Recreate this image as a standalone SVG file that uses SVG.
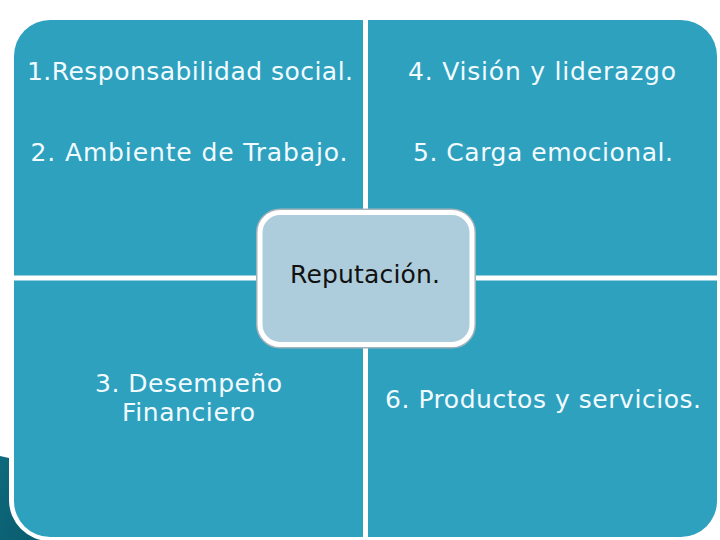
<svg xmlns="http://www.w3.org/2000/svg" width="720" height="540" viewBox="0 0 720 540">
  <defs>
    <linearGradient id="deco" x1="0" y1="0" x2="1" y2="1">
      <stop offset="0" stop-color="#0d6a7c"/>
      <stop offset="1" stop-color="#0a5a6c"/>
    </linearGradient>
  </defs>
  <style>
    .quad { fill: #2ea1bf; }
    .lbl { font-family: "DejaVu Sans", Verdana, sans-serif; font-size: 25px; fill: #f2fbff; text-anchor: middle; }
    .center-lbl { font-family: "DejaVu Sans", Verdana, sans-serif; font-size: 25px; fill: #111111; text-anchor: middle; }
  </style>
  <rect width="720" height="540" fill="#ffffff"/>
  <path id="decoration" d="M0,456 L9,458 L9,500 A41,41 0 0 0 50,541 L0,541 Z" fill="url(#deco)"/>

  <g id="q1">
    <path class="quad" d="M14,56 A36,36 0 0 1 50,20 L363,20 L363,275.5 L14,275.5 Z"/>
    <text class="lbl" x="190" y="80" textLength="326" lengthAdjust="spacing">1.Responsabilidad social.</text>
    <text class="lbl" x="189" y="161" textLength="317" lengthAdjust="spacing">2. Ambiente de Trabajo.</text>
  </g>
  <g id="q2">
    <path class="quad" d="M368,20 L681,20 A36,36 0 0 1 717,56 L717,275.5 L368,275.5 Z"/>
    <text class="lbl" x="542" y="80" textLength="268" lengthAdjust="spacing">4. Visión y liderazgo</text>
    <text class="lbl" x="543" y="161" textLength="260" lengthAdjust="spacing">5. Carga emocional.</text>
  </g>
  <g id="q3">
    <path class="quad" d="M14,280.5 L363,280.5 L363,537 L50,537 A36,36 0 0 1 14,501 Z"/>
    <text class="lbl" x="188.5" y="392" textLength="187" lengthAdjust="spacing">3. Desempeño</text>
    <text class="lbl" x="188.5" y="421" textLength="133" lengthAdjust="spacing">Financiero</text>
  </g>
  <g id="q4">
    <path class="quad" d="M368,280.5 L717,280.5 L717,501 A36,36 0 0 1 681,537 L368,537 Z"/>
    <text class="lbl" x="543" y="408" textLength="316" lengthAdjust="spacing">6. Productos y servicios.</text>
  </g>
  <g id="reputacion">
    <rect x="260" y="212.5" width="212" height="132" rx="20" ry="20" fill="none" stroke="#a3b3ba" stroke-width="8"/>
    <rect x="260" y="212.5" width="212" height="132" rx="20" ry="20" fill="#adcddc" stroke="#ffffff" stroke-width="5"/>
    <text class="center-lbl" x="365" y="283" textLength="150" lengthAdjust="spacing">Reputación.</text>
  </g>
</svg>
